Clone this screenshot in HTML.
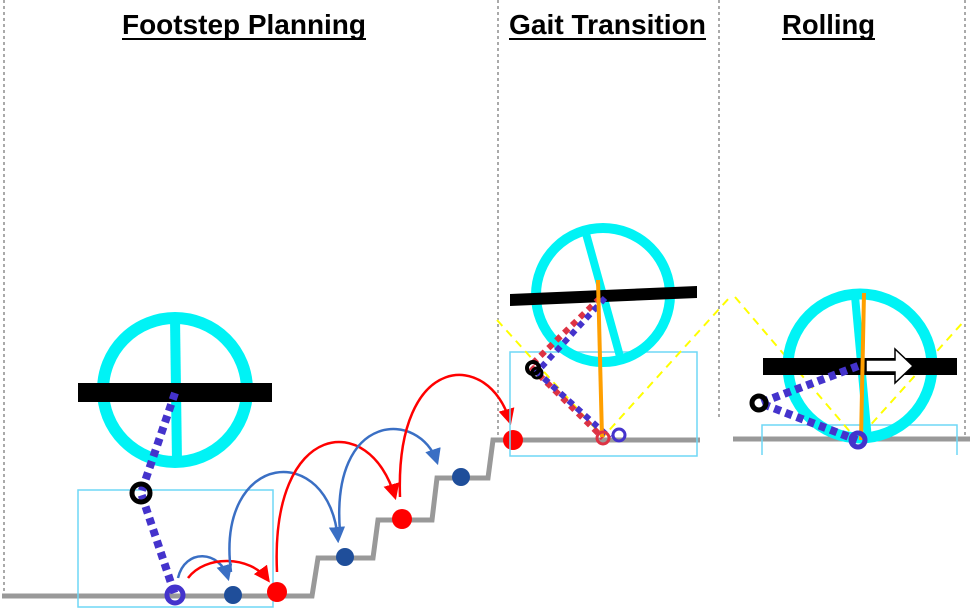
<!DOCTYPE html>
<html><head><meta charset="utf-8"><style>
html,body{margin:0;padding:0;background:#fff;}
svg{display:block;}
text{font-family:"Liberation Sans",sans-serif;font-weight:bold;}
</style></head><body>
<svg width="974" height="616" viewBox="0 0 974 616">
<defs>
<marker id="ab" viewBox="0 0 10 10" refX="8" refY="5" markerWidth="6.5" markerHeight="6.5" orient="auto"><path d="M0,0 L10,5 L0,10 z" fill="#3a6fc4"/></marker>
<marker id="ar" viewBox="0 0 10 10" refX="8" refY="5" markerWidth="6.5" markerHeight="6.5" orient="auto"><path d="M0,0 L10,5 L0,10 z" fill="#ff0000"/></marker>
</defs>
<g stroke="#555" stroke-width="1" stroke-dasharray="3,3">
<line x1="4" y1="0" x2="4" y2="595"/><line x1="498" y1="0" x2="498" y2="440"/><line x1="719" y1="0" x2="719" y2="420"/><line x1="965" y1="0" x2="965" y2="440"/>
</g>
<text x="122" y="34" font-size="28" textLength="244" lengthAdjust="spacingAndGlyphs">Footstep Planning</text>
<line x1="122" y1="39" x2="366" y2="39" stroke="#000" stroke-width="2"/>
<text x="509" y="34" font-size="28" textLength="197" lengthAdjust="spacingAndGlyphs">Gait Transition</text>
<line x1="509" y1="39" x2="706" y2="39" stroke="#000" stroke-width="2"/>
<text x="782" y="34" font-size="28" textLength="93" lengthAdjust="spacingAndGlyphs">Rolling</text>
<line x1="782" y1="39" x2="875" y2="39" stroke="#000" stroke-width="2"/>

<path d="M2,596 L312,596 L318,558 L373,558 L378,520 L432,520 L437,478 L488,478 L493,440 L700,440" fill="none" stroke="#999" stroke-width="5"/>
<line x1="733" y1="439" x2="970" y2="439" stroke="#999" stroke-width="5"/>

<rect x="78" y="490" width="195" height="117" fill="none" stroke="#6fd7f5" stroke-width="1.5"/>
<g>
<circle cx="175" cy="390" r="72" fill="none" stroke="#00f3f5" stroke-width="12"/>
<line x1="175" y1="318" x2="177" y2="462" stroke="#00f3f5" stroke-width="10"/>
</g>
<rect x="78" y="383" width="194" height="19" fill="#000"/>
<circle cx="175" cy="393" r="8" fill="#000"/>
<path d="M175,393 L141,493 L175,595" fill="none" stroke="#4433cc" stroke-width="8" stroke-dasharray="7,5"/>
<circle cx="141" cy="493" r="9" fill="none" stroke="#000" stroke-width="5"/>
<circle cx="175" cy="595" r="8" fill="none" stroke="#4433cc" stroke-width="5"/>

<g fill="none" stroke-width="2.5">
<path d="M178,578 C185,548 220,550 228,578" stroke="#3a6fc4" marker-end="url(#ab)"/>
<path d="M188,578 C205,555 250,555 268,580" stroke="#ff0000" marker-end="url(#ar)"/>
<path d="M231,572 C215,450 330,440 338,540" stroke="#3a6fc4" marker-end="url(#ab)"/>
<path d="M277,572 C270,420 370,410 395,497" stroke="#ff0000" marker-end="url(#ar)"/>
<path d="M340,532 C330,410 420,410 437,462" stroke="#3a6fc4" marker-end="url(#ab)"/>
<path d="M400,497 C395,350 490,350 510,422" stroke="#ff0000" marker-end="url(#ar)"/>
</g>
<g>
<circle cx="233" cy="595" r="9" fill="#1f4e9a"/>
<circle cx="277" cy="592" r="10" fill="#ff0000"/>
<circle cx="345" cy="557" r="9" fill="#1f4e9a"/>
<circle cx="402" cy="519" r="10" fill="#ff0000"/>
<circle cx="461" cy="477" r="9" fill="#1f4e9a"/>
<circle cx="513" cy="440" r="10" fill="#ff0000"/>
</g>

<rect x="510" y="352" width="187" height="104" fill="none" stroke="#6fd7f5" stroke-width="1.5"/>
<path d="M497,320 L603,437 L730,297" fill="none" stroke="#ffff00" stroke-width="2" stroke-dasharray="8,6"/>
<g>
<circle cx="603" cy="295" r="67" fill="none" stroke="#00f3f5" stroke-width="10"/>
<line x1="585" y1="230" x2="621" y2="360" stroke="#00f3f5" stroke-width="8"/>
</g>
<polygon points="510,294 697,286 697,298 510,306" fill="#000"/>
<path d="M600,298 L530,366 L603,438" fill="none" stroke="#dd3344" stroke-width="6" stroke-dasharray="6,5"/>
<path d="M605,298 L537,372 L610,438" fill="none" stroke="#4433cc" stroke-width="6" stroke-dasharray="6,5"/>
<circle cx="533" cy="368" r="6" fill="none" stroke="#000" stroke-width="4"/>
<circle cx="537" cy="373" r="5" fill="none" stroke="#000" stroke-width="3"/>
<line x1="598" y1="280" x2="602" y2="437" stroke="#ff9f00" stroke-width="4"/>
<circle cx="603" cy="438" r="6" fill="none" stroke="#dd3344" stroke-width="3"/>
<circle cx="619" cy="435" r="6" fill="none" stroke="#4433cc" stroke-width="3"/>

<path d="M762,455 L762,425 L957,425 L957,455" fill="none" stroke="#6fd7f5" stroke-width="1.5"/>
<path d="M735,297 L857,440 L965,320" fill="none" stroke="#ffff00" stroke-width="2" stroke-dasharray="8,6"/>
<g>
<circle cx="860" cy="366" r="72" fill="none" stroke="#00f3f5" stroke-width="11"/>
<line x1="855" y1="296" x2="868" y2="440" stroke="#00f3f5" stroke-width="8"/>
</g>
<rect x="763" y="358" width="194" height="17" fill="#000"/>
<path d="M858,366 L760,403 L857,440" fill="none" stroke="#4433cc" stroke-width="8" stroke-dasharray="7,5"/>
<circle cx="759" cy="403" r="7" fill="none" stroke="#000" stroke-width="5"/>
<polygon points="866,360 895,360 895,349 913,366 895,383 895,372 866,372" fill="#fff" stroke="#000" stroke-width="1.5"/>
<line x1="864" y1="293" x2="861" y2="440" stroke="#ff9f00" stroke-width="4"/>
<circle cx="858" cy="440" r="7" fill="none" stroke="#4433cc" stroke-width="5"/>
</svg>
</body></html>
